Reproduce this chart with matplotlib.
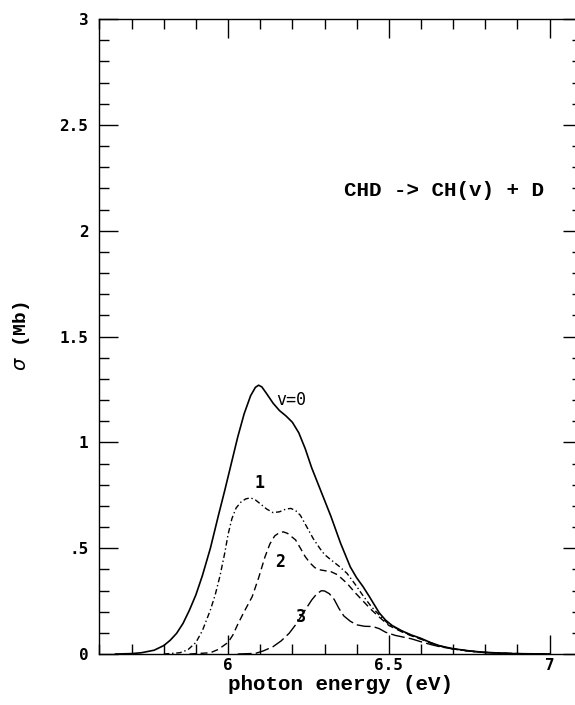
import matplotlib
matplotlib.use('Agg')
import matplotlib.pyplot as plt
from matplotlib.ticker import MultipleLocator
import numpy as np

# partial cross sections CHD -> CH(v) + D, v = 0..3
e_v0 = [5.65, 5.70, 5.73, 5.77, 5.80, 5.82, 5.84, 5.86, 5.88, 5.90, 5.92, 5.945, 5.97, 5.99,
        6.01, 6.03, 6.05, 6.07, 6.085, 6.095, 6.105, 6.12, 6.14, 6.16, 6.18, 6.20, 6.22, 6.24,
        6.26, 6.29, 6.32, 6.35, 6.38, 6.40, 6.42, 6.44, 6.47, 6.49, 6.51, 6.54, 6.57, 6.60,
        6.63, 6.66, 6.70, 6.75, 6.79, 6.84, 6.89, 7.00]
s_v0 = [0.0, 0.002, 0.006, 0.018, 0.04, 0.065, 0.098, 0.145, 0.208, 0.28, 0.37, 0.50, 0.655, 0.775,
        0.90, 1.025, 1.135, 1.22, 1.26, 1.27, 1.262, 1.23, 1.185, 1.15, 1.125, 1.095, 1.045, 0.97,
        0.88, 0.765, 0.65, 0.523, 0.412, 0.36, 0.318, 0.27, 0.195, 0.16, 0.135, 0.11, 0.09, 0.074,
        0.054, 0.038, 0.025, 0.015, 0.009, 0.005, 0.002, 0.0]

e_v1 = [5.80, 5.85, 5.875, 5.90, 5.92, 5.945, 5.96, 5.975, 5.99, 6.00, 6.012, 6.025, 6.04, 6.055,
        6.07, 6.085, 6.10, 6.12, 6.14, 6.16, 6.18, 6.195, 6.21, 6.225, 6.245, 6.265, 6.285, 6.30,
        6.32, 6.345, 6.37, 6.395, 6.42, 6.445, 6.47, 6.50, 6.54, 6.57, 6.60, 6.63, 6.66, 6.70,
        6.75, 6.79, 6.84, 6.89, 7.00]
s_v1 = [0.0, 0.006, 0.02, 0.055, 0.11, 0.208, 0.28, 0.37, 0.48, 0.565, 0.64, 0.69, 0.718, 0.733,
        0.738, 0.728, 0.71, 0.685, 0.668, 0.672, 0.685, 0.688, 0.678, 0.655, 0.60, 0.545, 0.50, 0.47,
        0.445, 0.415, 0.381, 0.33, 0.275, 0.225, 0.185, 0.14, 0.108, 0.088, 0.072, 0.053, 0.038, 0.024,
        0.014, 0.008, 0.004, 0.002, 0.0]

e_v2 = [5.88, 5.945, 5.97, 6.00, 6.015, 6.03, 6.05, 6.075, 6.095, 6.115, 6.13, 6.145, 6.16, 6.172,
        6.185, 6.21, 6.225, 6.24, 6.255, 6.27, 6.285, 6.30, 6.32, 6.34, 6.37, 6.395, 6.42, 6.445,
        6.47, 6.50, 6.54, 6.57, 6.60, 6.63, 6.66, 6.70, 6.75, 6.79, 6.84, 6.89, 7.00]
s_v2 = [0.0, 0.006, 0.022, 0.055, 0.09, 0.14, 0.20, 0.271, 0.36, 0.46, 0.52, 0.558, 0.574, 0.577,
        0.57, 0.539, 0.50, 0.46, 0.43, 0.408, 0.398, 0.394, 0.389, 0.375, 0.334, 0.29, 0.25, 0.21,
        0.175, 0.135, 0.105, 0.086, 0.07, 0.052, 0.037, 0.024, 0.014, 0.008, 0.004, 0.002, 0.0]

e_v3 = [6.03, 6.085, 6.11, 6.14, 6.165, 6.19, 6.21, 6.23, 6.245, 6.26, 6.275, 6.29, 6.30, 6.315,
        6.33, 6.345, 6.36, 6.38, 6.40, 6.425, 6.45, 6.47, 6.49, 6.52, 6.57, 6.60, 6.63, 6.66,
        6.70, 6.75, 6.79, 6.84, 6.89, 7.00]
s_v3 = [0.0, 0.003, 0.015, 0.035, 0.062, 0.098, 0.138, 0.184, 0.22, 0.255, 0.283, 0.299, 0.298, 0.285,
        0.258, 0.215, 0.18, 0.155, 0.138, 0.131, 0.13, 0.12, 0.103, 0.088, 0.072, 0.058, 0.045, 0.034,
        0.024, 0.014, 0.008, 0.004, 0.002, 0.0]

y_ticks = [0, 0.5, 1, 1.5, 2, 2.5, 3]
y_ticklabels = ['0', '.5', '1', '1.5', '2', '2.5', '3']
x_ticks = [6, 6.5, 7]
x_ticklabels = ['6', '6.5', '7']

serif = 'Liberation Mono'
digits = 'DejaVu Sans Mono'

fig = plt.figure(figsize=(5.75, 7.05), dpi=100)
ax = fig.add_axes([0.173, 0.0723, 0.8387, 0.9007])

ax.plot(e_v0, s_v0, color='black', lw=1.2)
ax.plot(e_v1, s_v1, color='black', lw=1.0, dashes=(4, 2, 1, 2))
ax.plot(e_v2, s_v2, color='black', lw=1.0, dashes=(5, 3))
ax.plot(e_v3, s_v3, color='black', lw=1.0, dashes=(10, 3))

ax.set_xlim(5.6, 7.1)
ax.set_ylim(0, 3)

ax.set_xticks(x_ticks)
ax.set_xticklabels(x_ticklabels, fontfamily=digits, fontsize=11.5, fontweight='bold')
ax.set_yticks(y_ticks)
ax.set_yticklabels(y_ticklabels, fontfamily=digits, fontsize=11.5, fontweight='bold')
ax.xaxis.set_minor_locator(MultipleLocator(0.1))
ax.yaxis.set_minor_locator(MultipleLocator(0.1))
ax.tick_params(which='both', direction='in', top=True, right=True, width=1.0, colors='black')
ax.tick_params(which='major', length=14)
ax.tick_params(which='minor', length=7)
ax.tick_params(axis='y', which='major', pad=8)
ax.tick_params(axis='x', which='major', pad=3)
for s in ax.spines.values():
    s.set_linewidth(1.0)

fig.text(0.592, 0.021, 'photon energy (eV)', fontfamily=serif, fontsize=15,
         fontweight='bold', ha='center', va='baseline')
ax.set_ylabel(r'$\sigma$ (Mb)', fontfamily=serif, fontsize=14, fontweight='bold')
ax.yaxis.set_label_coords(-0.14, 0.5)

ax.text(6.15, 1.20, 'v=0', fontfamily=digits, fontsize=12, ha='left', va='center')
ax.text(6.098, 0.81, '1', fontfamily=digits, fontsize=12, fontweight='bold', ha='center', va='center')
ax.text(6.163, 0.435, '2', fontfamily=digits, fontsize=12, fontweight='bold', ha='center', va='center')
ax.text(6.228, 0.175, '3', fontfamily=digits, fontsize=12, fontweight='bold', ha='center', va='center')
ax.text(6.673, 2.19, 'CHD -> CH(v) + D', fontfamily=serif, fontsize=15, fontweight='bold',
        ha='center', va='center')

fig.savefig('out.png', dpi=100)
